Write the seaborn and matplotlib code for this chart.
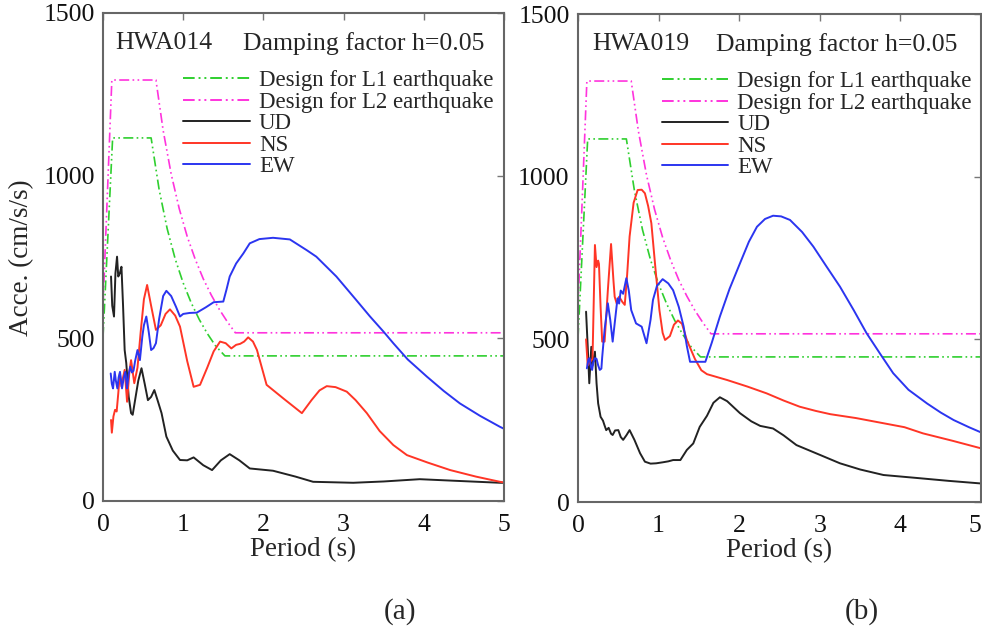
import numpy as np
import pandas as pd
import matplotlib
matplotlib.use("Agg")
import matplotlib.pyplot as plt
import seaborn as sns

# ---------------- data ----------------
# design spectra (same in both panels)
L1_T = [0.0, 0.12, 0.60, 0.70, 0.80, 0.90, 1.00, 1.10, 1.20, 1.30, 1.40, 1.52, 5.0]
L1_V = [504, 1116, 1116, 957, 837, 744, 670, 609, 558, 515, 478, 446, 446]
L2_T = [0.0, 0.11, 0.66, 0.75, 0.85, 0.95, 1.05, 1.15, 1.25, 1.35, 1.45, 1.55, 1.65, 5.0]
L2_V = [600, 1294, 1294, 1139, 1005, 899, 813, 743, 683, 633, 589, 551, 517, 517]

# (a) HWA014
a_UD_T = [0.10, 0.115, 0.137, 0.155, 0.175, 0.19, 0.21, 0.23, 0.25, 0.27, 0.29, 0.32, 0.35, 0.37,
          0.40, 0.44, 0.48, 0.52, 0.56, 0.60, 0.64, 0.68, 0.73, 0.79, 0.87, 0.96, 1.05, 1.13,
          1.25, 1.36, 1.47, 1.58, 1.70, 1.83, 2.12, 2.40, 2.62, 3.12, 3.50, 3.95, 4.40, 4.95, 5.0]
a_UD_V = [690, 600, 567, 700, 751, 690, 700, 720, 600, 464, 424, 321, 270, 265,
          310, 370, 408, 360, 310, 320, 341, 310, 270, 198, 155, 126, 125, 134,
          110, 95, 125, 144, 125, 100, 93, 75, 59, 56, 60, 67, 62, 56, 56]

a_NS_T = [0.10, 0.11, 0.13, 0.15, 0.17, 0.19, 0.21, 0.23, 0.25, 0.27, 0.30, 0.33, 0.35, 0.39,
          0.43, 0.47, 0.51, 0.55, 0.60, 0.66, 0.72, 0.78, 0.835, 0.90, 0.96, 1.05, 1.13, 1.21,
          1.30, 1.38, 1.46, 1.53, 1.60, 1.66, 1.71, 1.76, 1.81, 1.87, 1.92, 2.04, 2.25, 2.48,
          2.60, 2.70, 2.79, 2.90, 3.04, 3.15, 3.29, 3.45, 3.62, 3.79, 4.05, 4.33, 4.65, 4.95, 5.0]
a_NS_V = [249, 210, 260, 280, 275, 330, 392, 352, 380, 403, 305, 400, 433, 362,
          410, 520, 620, 664, 600, 526, 540, 575, 589, 570, 536, 430, 351, 357,
          410, 460, 490, 485, 469, 480, 483, 490, 503, 490, 464, 357, 315, 270,
          310, 340, 353, 350, 336, 310, 270, 215, 172, 141, 118, 95, 75, 59, 57]

a_EW_T = [0.096, 0.11, 0.125, 0.146, 0.16, 0.179, 0.195, 0.212, 0.225, 0.237, 0.26, 0.279, 0.29,
          0.299, 0.32, 0.34, 0.36, 0.38, 0.40, 0.43, 0.46, 0.49, 0.51, 0.54, 0.57, 0.60, 0.63,
          0.66, 0.70, 0.75, 0.79, 0.85, 0.91, 0.96, 1.00, 1.08, 1.17, 1.28, 1.38, 1.50, 1.54,
          1.58, 1.66, 1.75, 1.83, 1.95, 2.12, 2.33, 2.54, 2.66, 2.91, 3.15, 3.33, 3.50, 3.62,
          3.80, 4.04, 4.25, 4.45, 4.70, 4.95, 5.0]
a_EW_V = [392, 360, 346, 397, 370, 346, 380, 397, 370, 346, 380, 397, 370,
          346, 390, 413, 395, 400, 430, 464, 433, 505, 540, 567, 520, 464, 470,
          485, 560, 630, 646, 630, 597, 567, 575, 578, 579, 595, 611, 613, 650,
          690, 730, 761, 792, 805, 809, 804, 771, 751, 690, 620, 567, 520, 485,
          435, 382, 338, 300, 262, 228, 222]

# (b) HWA019
b_UD_T = [0.10, 0.12, 0.14, 0.165, 0.18, 0.21, 0.23, 0.25, 0.28, 0.31, 0.33, 0.35, 0.38, 0.41,
          0.43, 0.46, 0.50, 0.53, 0.56, 0.60, 0.64, 0.70, 0.77, 0.83, 0.90, 0.97, 1.05, 1.12,
          1.18, 1.27, 1.35, 1.43, 1.51, 1.60, 1.68, 1.76, 1.85, 2.01, 2.15, 2.26, 2.42, 2.55,
          2.71, 3.00, 3.25, 3.50, 3.79, 4.20, 4.60, 5.0]
b_UD_V = [585, 480, 365, 477, 420, 462, 365, 303, 262, 250, 235, 221, 228, 210,
          206, 220, 221, 200, 191, 205, 221, 191, 150, 124, 118, 119, 122, 125,
          129, 129, 160, 180, 231, 265, 305, 322, 310, 273, 248, 234, 226, 205,
          175, 145, 119, 100, 83, 74, 65, 57]

b_NS_T = [0.10, 0.12, 0.15, 0.18, 0.21, 0.23, 0.25, 0.26, 0.28, 0.30, 0.33, 0.37, 0.41, 0.44,
          0.455, 0.48, 0.51, 0.55, 0.58, 0.61, 0.64, 0.69, 0.74, 0.79, 0.83, 0.87, 0.91, 0.96,
          1.01, 1.05, 1.08, 1.14, 1.19, 1.24, 1.29, 1.35, 1.45, 1.53, 1.60, 1.85, 2.10, 2.34,
          2.55, 2.75, 2.95, 3.13, 3.45, 3.75, 4.05, 4.28, 4.65, 5.0]
b_NS_V = [500, 420, 430, 440, 790, 722, 742, 732, 600, 493, 493, 650, 793, 680,
          631, 610, 631, 615, 606, 700, 816, 920, 959, 960, 949, 910, 857, 720,
          590, 520, 498, 510, 545, 558, 548, 498, 440, 405, 393, 375, 355, 334,
          312, 293, 280, 270, 258, 244, 230, 211, 188, 165]

b_EW_T = [0.11, 0.13, 0.145, 0.16, 0.175, 0.19, 0.21, 0.23, 0.25, 0.27, 0.29, 0.30, 0.33, 0.37,
          0.40, 0.43, 0.46, 0.49, 0.51, 0.53, 0.56, 0.60, 0.63, 0.66, 0.72, 0.79, 0.85, 0.90,
          0.93, 0.98, 1.05, 1.12, 1.18, 1.25, 1.31, 1.35, 1.39, 1.58, 1.66, 1.76, 1.88, 2.01,
          2.12, 2.22, 2.32, 2.42, 2.52, 2.63, 2.78, 2.92, 3.08, 3.25, 3.42, 3.58, 3.75, 3.91,
          4.10, 4.33, 4.50, 4.66, 4.85, 5.0]
b_EW_V = [411, 440, 442, 415, 406, 430, 442, 440, 420, 406, 410, 445, 530, 611,
          560, 493, 560, 626, 610, 650, 640, 688, 650, 590, 549, 539, 488, 560,
          621, 665, 685, 672, 651, 600, 540, 480, 431, 431, 490, 570, 655, 734,
          800, 846, 870, 880, 878, 867, 830, 785, 725, 662, 590, 519, 455, 396,
          345, 303, 275, 252, 230, 214]

station_names = ["HWA014", "HWA019"]
panel_tags = ["(a)", "(b)"]
y_ticks = [0, 500, 1000, 1500]
x_ticks = [0, 1, 2, 3, 4, 5]

# ---------------- style ----------------
sns.set_style("white")
plt.rcParams["font.family"] = ["Liberation Serif", "DejaVu Serif"]

C_L1 = "#2fcf2f"
C_L2 = "#ff33dd"
C_UD = "#222222"
C_NS = "#ff3526"
C_EW = "#2b35f0"
DASH = (6, 2, 1, 2, 1, 2)

fig = plt.figure(figsize=(9.82, 6.4), dpi=100)
ax1 = fig.add_axes([0.1049, 0.2172, 0.4083, 0.7625])
ax2 = fig.add_axes([0.5886, 0.2156, 0.4104, 0.7625])

panels = [
    (ax1, a_UD_T, a_UD_V, a_NS_T, a_NS_V, a_EW_T, a_EW_V),
    (ax2, b_UD_T, b_UD_V, b_NS_T, b_NS_V, b_EW_T, b_EW_V),
]

for i, (ax, udT, udV, nsT, nsV, ewT, ewV) in enumerate(panels):
    sns.lineplot(x=L1_T, y=L1_V, ax=ax, color=C_L1, lw=1.2, sort=False, estimator=None,
                 label="Design for L1 earthquake").lines[-1].set_dashes(DASH)
    sns.lineplot(x=L2_T, y=L2_V, ax=ax, color=C_L2, lw=1.2, sort=False, estimator=None,
                 label="Design for L2 earthquake").lines[-1].set_dashes(DASH)
    sns.lineplot(x=udT, y=udV, ax=ax, color=C_UD, lw=1.4, sort=False, estimator=None, label="UD")
    sns.lineplot(x=nsT, y=nsV, ax=ax, color=C_NS, lw=1.4, sort=False, estimator=None, label="NS")
    sns.lineplot(x=ewT, y=ewV, ax=ax, color=C_EW, lw=1.4, sort=False, estimator=None, label="EW")

    ax.set_xlim(0, 5)
    ax.set_ylim(0, 1500)
    ax.set_xticks(x_ticks)
    ax.set_yticks(y_ticks)
    ax.tick_params(direction="in", top=True, right=True, length=5, width=1,
                   color="#777777", labelsize=18.5, pad=6, labelcolor="#111111")
    ax.tick_params(axis="x", pad=9.5)
    for s in ax.spines.values():
        s.set_color("#666666")
        s.set_linewidth(1.5)
    ax.set_xlabel("Period (s)", fontsize=19.5, labelpad=1)
    ax.set_ylabel("")

    leg = ax.legend(loc="upper left", bbox_to_anchor=(0.2 if i == 0 else 0.208, 0.883),
                    frameon=False, fontsize=16.5, handlelength=2.9, handletextpad=0.4,
                    labelspacing=0.02, borderpad=0, borderaxespad=0)
    for h in leg.get_lines():
        h.set_linewidth(1.4)
    leg.get_lines()[0].set_dashes(DASH)
    leg.get_lines()[1].set_dashes(DASH)

    ax.text(0.03 if i == 0 else 0.035, 0.938, station_names[i], transform=ax.transAxes,
            fontsize=18.5, va="center", ha="left")
    ax.text(0.349 if i == 0 else 0.342, 0.938, "Damping factor h=0.05", transform=ax.transAxes,
            fontsize=18.5, va="center", ha="left")

# last x tick label of the right panel sits at the figure edge
ax2.get_xticklabels()[-1].set_horizontalalignment("right")

fig.text(0.022, 0.597, "Acce. (cm/s/s)", rotation=90, fontsize=19.5, va="center", ha="center")
fig.text(400 / 982, 1 - 612 / 640, panel_tags[0], fontsize=21, ha="center", va="center")
fig.text(862 / 982, 1 - 612 / 640, panel_tags[1], fontsize=21, ha="center", va="center")

fig.savefig("out.png", dpi=100)
